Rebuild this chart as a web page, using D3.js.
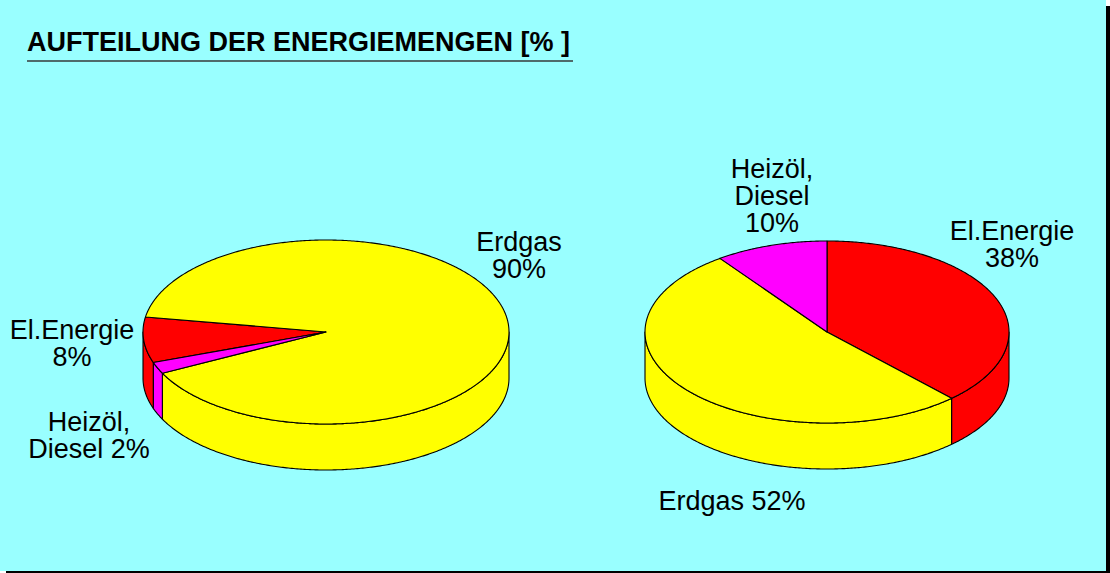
<!DOCTYPE html>
<html>
<head>
<meta charset="utf-8">
<script src="https://cdn.jsdelivr.net/npm/d3@7"></script>
<style>
  html, body { margin: 0; padding: 0; background: #ffffff; }
  svg { display: block; }
</style>
</head>
<body>
<svg id="chart" width="1110" height="573"></svg>
<script>
// ---------- DATA ----------
const title = "AUFTEILUNG DER ENERGIEMENGEN [% ]";
const categories = ["El.Energie", "Erdgas", "Heizöl, Diesel"];
const leftValues = [8, 90, 2];
const rightValues = [38, 52, 10];
const leftLabelLines = [["El.Energie", "{v}%"], ["Erdgas", "{v}%"], ["Heizöl,", "Diesel {v}%"]];
const rightLabelLines = [["El.Energie", "{v}%"], ["Erdgas {v}%"], ["Heizöl,", "Diesel", "{v}%"]];

// ---------- STYLE / LAYOUT ----------
const W = 1110, H = 573;
const bg = "#99ffff";
const sliceColors = d3.scaleOrdinal().domain(categories).range(["#ff0000", "#ffff00", "#ff00ff"]);
const fontFamily = "'Liberation Sans', Arial, Helvetica, sans-serif";

const pies = [
  { values: leftValues, lines: leftLabelLines, cx: 326, cy: 332, rx: 183, ry: 92, depth: 46, startDeg: 250.6,
    labelOffsets: [[-254, 7], [193, -81], [-237, 99]] },
  { values: rightValues, lines: rightLabelLines, cx: 827, cy: 332, rx: 182, ry: 91, depth: 46, startDeg: 0,
    labelOffsets: [[185, -92], [-95, 178], [-55, -154]] }
];

const svg = d3.select("#chart");

// shadow + background
svg.append("rect").attr("x", 6).attr("y", 6).attr("width", W - 6).attr("height", H - 6).attr("fill", "#000");
svg.append("rect").attr("x", 0).attr("y", 0).attr("width", 1106).attr("height", 571).attr("fill", bg);

// title
svg.append("text")
  .attr("x", 27).attr("y", 51)
  .attr("font-family", fontFamily)
  .attr("font-weight", "bold")
  .attr("font-size", 27)
  .attr("fill", "#000")
  .text(title);
svg.append("line")
  .attr("x1", 27).attr("x2", 573).attr("y1", 61).attr("y2", 61)
  .attr("stroke", "#4f6b6b").attr("stroke-width", 2);

const TAU = Math.PI * 2;

pies.forEach(cfg => {
  const start = cfg.startDeg * Math.PI / 180;
  const pie = d3.pie().sort(null).value(d => d.v).startAngle(start).endAngle(start + TAU);
  const arcs = pie(cfg.values.map((v, i) => ({ v, cat: categories[i], i })));

  const pt = (a, dy) => [cfg.cx + cfg.rx * Math.sin(a), cfg.cy - cfg.ry * Math.cos(a) + (dy || 0)];
  const sample = (a0, a1, dy) => {
    const n = Math.max(2, Math.ceil(Math.abs(a1 - a0) / 0.01));
    return d3.range(n + 1).map(k => pt(a0 + (a1 - a0) * k / n, dy));
  };
  const line = d3.line();

  const g = svg.append("g");

  // side walls (front half: angles in (pi/2, 3pi/2) mod 2pi)
  arcs.forEach(a => {
    for (let k = -1; k <= 2; k++) {
      const f0 = Math.PI / 2 + k * TAU, f1 = 3 * Math.PI / 2 + k * TAU;
      const s0 = Math.max(a.startAngle, f0), s1 = Math.min(a.endAngle, f1);
      if (s1 > s0 + 1e-6) {
        const top = sample(s0, s1, 0);
        const bottom = sample(s1, s0, cfg.depth);
        g.append("path")
          .attr("d", line(top.concat(bottom)) + "Z")
          .attr("fill", sliceColors(a.data.cat))
          .attr("stroke", "#000")
          .attr("stroke-width", 1.1)
          .attr("stroke-linejoin", "round");
      }
    }
  });

  // top faces
  arcs.forEach(a => {
    const pts = [[cfg.cx, cfg.cy]].concat(sample(a.startAngle, a.endAngle, 0));
    g.append("path")
      .attr("d", line(pts) + "Z")
      .attr("fill", sliceColors(a.data.cat))
      .attr("stroke", "#000")
      .attr("stroke-width", 1.1)
      .attr("stroke-linejoin", "round");
  });

  // labels
  arcs.forEach((a, i) => {
    const [dx, dy] = cfg.labelOffsets[i];
    const t = g.append("text")
      .attr("font-family", fontFamily)
      .attr("font-size", 27)
      .attr("fill", "#000")
      .attr("text-anchor", "middle");
    cfg.lines[i].forEach((ln, j) => {
      t.append("tspan")
        .attr("x", cfg.cx + dx)
        .attr("y", cfg.cy + dy + j * 27)
        .text(ln.replace("{v}", a.data.v));
    });
  });
});
</script>
</body>
</html>
